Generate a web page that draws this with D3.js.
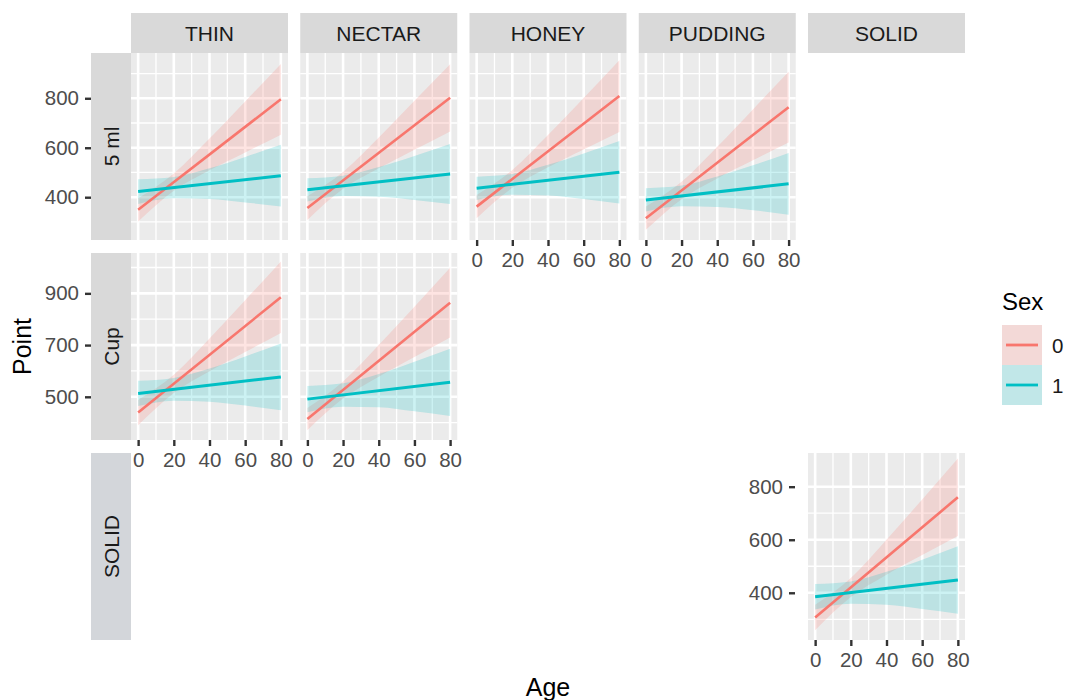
<!DOCTYPE html>
<html>
<head>
<meta charset="utf-8">
<script src="https://cdn.jsdelivr.net/npm/d3@7"></script>
<style>
  html, body { margin: 0; padding: 0; background: #ffffff; }
  svg { display: block; font-family: "Liberation Sans", Arial, Helvetica, sans-serif; }
</style>
</head>
<body>
<svg id="chart" width="1069" height="700"></svg>
<script>
// ---------------- DATA ----------------
const columns = ["THIN", "NECTAR", "HONEY", "PUDDING", "SOLID"];
const rows = ["5 ml", "Cup", "SOLID"];
const sexes = ["0", "1"];
const sexColors = ["#F8766D", "#00BFC4"];

// panels that hold data: [row, column]
const panelRow = ["5 ml", "5 ml", "5 ml", "5 ml", "Cup", "Cup", "SOLID"];
const panelCol = ["THIN", "NECTAR", "HONEY", "PUDDING", "THIN", "NECTAR", "SOLID"];

// fitted lines, value at age 0 and age 80
const lineAges = [0, 80];
const fitSex0 = [[349, 796], [356, 802], [362, 809], [315, 764], [439, 885], [414, 864], [307, 760]];
const fitSex1 = [[423, 487], [430, 494], [436, 501], [389, 454], [513, 577], [491, 556], [385, 448]];

// confidence band, read at these ages
const bandAges = [0, 20, 40, 60, 80];
const loSex0 = [[302, 426, 509, 581, 653], [308, 434, 517, 592, 666], [315, 438, 521, 593, 664], [268, 392, 476, 549, 621],
                [390, 515, 599, 673, 747], [371, 493, 578, 654, 729], [259, 384, 468, 542, 614]];
const hiSex0 = [[396, 496, 637, 787, 939], [404, 502, 641, 790, 938], [409, 510, 651, 801, 954], [362, 462, 604, 755, 907],
                [488, 585, 725, 873, 1023], [457, 559, 700, 848, 999], [355, 456, 600, 752, 906]];
const loSex1 = [[373, 396, 393, 379, 362], [383, 405, 402, 389, 373], [389, 410, 407, 393, 375], [342, 363, 360, 347, 329],
                [464, 485, 481, 466, 448], [440, 462, 460, 444, 426], [337, 359, 355, 339, 321]];
const hiSex1 = [[473, 482, 517, 563, 612], [477, 487, 522, 567, 615], [483, 494, 531, 577, 627], [436, 447, 484, 529, 579],
                [562, 573, 609, 656, 706], [542, 552, 588, 636, 686], [433, 443, 479, 525, 575]];

// axes
const xDomain = [-4, 84];
const xMajor = [0, 20, 40, 60, 80];
const xMinor = [10, 30, 50, 70];
const yDomains = [[227, 983], [333, 1056], [222, 927]];
const yMajor = [[400, 600, 800], [500, 700, 900], [400, 600, 800]];
const yMinor = [[300, 500, 700, 900], [400, 600, 800, 1000], [300, 500, 700]];
// where x axes are drawn: [row, column]
const xAxisRow = ["5 ml", "5 ml", "Cup", "Cup", "SOLID"];
const xAxisCol = ["HONEY", "PUDDING", "THIN", "NECTAR", "SOLID"];

// ---------------- LAYOUT ----------------
const svg = d3.select("#chart");
const colBand = d3.scaleBand().domain(columns).range([131, 965]).paddingInner(0.0724).paddingOuter(0);
const rowBand = d3.scaleBand().domain(rows).range([53, 640]).paddingInner(0.065).paddingOuter(0);
const stripTop = 13;
const rowStripX = 91;
const FONT = "Liberation Sans, Arial, sans-serif";

function xScale(col) {
  const x0 = colBand(col);
  return d3.scaleLinear().domain(xDomain).range([x0, x0 + colBand.bandwidth()]);
}
function yScale(row) {
  const i = rows.indexOf(row);
  const y0 = rowBand(row);
  return d3.scaleLinear().domain(yDomains[i]).range([y0 + rowBand.bandwidth(), y0]);
}

// column strips
columns.forEach(c => {
  svg.append("rect").attr("x", colBand(c)).attr("y", stripTop)
    .attr("width", colBand.bandwidth()).attr("height", rowBand("5 ml") - stripTop)
    .attr("fill", "#d9d9d9");
  svg.append("text").attr("x", colBand(c) + colBand.bandwidth() / 2).attr("y", (stripTop + rowBand("5 ml")) / 2)
    .attr("text-anchor", "middle").attr("dominant-baseline", "central")
    .attr("font-size", 21).attr("fill", "#1a1a1a").text(c);
});

// row strips
rows.forEach((r, i) => {
  svg.append("rect").attr("x", rowStripX).attr("y", rowBand(r))
    .attr("width", colBand(columns[0]) - rowStripX).attr("height", rowBand.bandwidth())
    .attr("fill", i === 2 ? "#d3d6da" : "#d9d9d9");
  const cx = (rowStripX + colBand(columns[0])) / 2, cy = rowBand(r) + rowBand.bandwidth() / 2;
  svg.append("text").attr("transform", `translate(${cx},${cy}) rotate(-90)`)
    .attr("text-anchor", "middle").attr("dominant-baseline", "central")
    .attr("font-size", 21).attr("fill", "#1a1a1a").text(r);
});

// panels
panelRow.forEach((r, p) => {
  const c = panelCol[p];
  const x = xScale(c), y = yScale(r);
  const ri = rows.indexOf(r);
  const g = svg.append("g");
  g.append("rect").attr("x", x.range()[0]).attr("y", y.range()[1])
    .attr("width", x.range()[1] - x.range()[0]).attr("height", y.range()[0] - y.range()[1])
    .attr("fill", "#ebebeb");
  // minor grid
  xMinor.forEach(v => g.append("line").attr("x1", x(v)).attr("x2", x(v)).attr("y1", y.range()[0]).attr("y2", y.range()[1])
    .attr("stroke", "#fff").attr("stroke-width", 1.3));
  yMinor[ri].forEach(v => g.append("line").attr("y1", y(v)).attr("y2", y(v)).attr("x1", x.range()[0]).attr("x2", x.range()[1])
    .attr("stroke", "#fff").attr("stroke-width", 1.3));
  // major grid
  xMajor.forEach(v => g.append("line").attr("x1", x(v)).attr("x2", x(v)).attr("y1", y.range()[0]).attr("y2", y.range()[1])
    .attr("stroke", "#fff").attr("stroke-width", 2.6));
  yMajor[ri].forEach(v => g.append("line").attr("y1", y(v)).attr("y2", y(v)).attr("x1", x.range()[0]).attr("x2", x.range()[1])
    .attr("stroke", "#fff").attr("stroke-width", 2.6));

  const los = [loSex0[p], loSex1[p]], his = [hiSex0[p], hiSex1[p]];
  const fits = [fitSex0[p], fitSex1[p]];
  // ribbons
  sexes.forEach((s, si) => {
    const pts = bandAges.map((a, k) => ({ a, lo: los[si][k], hi: his[si][k] }));
    const area = d3.area().x(d => x(d.a)).y0(d => y(d.lo)).y1(d => y(d.hi)).curve(d3.curveMonotoneX);
    g.append("path").attr("d", area(pts)).attr("fill", sexColors[si]).attr("fill-opacity", 0.2);
  });
  // lines
  sexes.forEach((s, si) => {
    const pts = lineAges.map((a, k) => ({ a, v: fits[si][k] }));
    const line = d3.line().x(d => x(d.a)).y(d => y(d.v));
    g.append("path").attr("d", line(pts)).attr("fill", "none").attr("stroke", sexColors[si])
      .attr("stroke-width", si === 0 ? 2.6 : 3);
  });
});

// x axes
xAxisRow.forEach((r, i) => {
  const x = xScale(xAxisCol[i]);
  const yb = rowBand(r) + rowBand.bandwidth();
  const ax = svg.append("g").attr("transform", `translate(0,${yb})`)
    .call(d3.axisBottom(x).tickValues(xMajor).tickSize(6).tickPadding(6).tickFormat(d3.format("d")));
  ax.select(".domain").remove();
  ax.selectAll("line").attr("stroke", "#333").attr("stroke-width", 2.4);
  ax.selectAll("text").attr("font-size", 20.5).attr("fill", "#4d4d4d").style("font-family", FONT);
});

// y axes
const yAxisX = [rowStripX, rowStripX, 795];
rows.forEach((r, i) => {
  const y = yScale(r);
  const ax = svg.append("g").attr("transform", `translate(${yAxisX[i]},0)`)
    .call(d3.axisLeft(y).tickValues(yMajor[i]).tickSize(6).tickPadding(6).tickFormat(d3.format("d")));
  ax.select(".domain").remove();
  ax.selectAll("line").attr("stroke", "#333").attr("stroke-width", 2.4);
  ax.selectAll("text").attr("font-size", 20.5).attr("fill", "#4d4d4d").style("font-family", FONT);
});

// axis titles
svg.append("text").attr("x", (131 + 965) / 2).attr("y", 696).attr("text-anchor", "middle")
  .attr("font-size", 25).attr("fill", "#000").text("Age");
svg.append("text").attr("transform", `translate(31,${(53 + 640) / 2}) rotate(-90)`).attr("text-anchor", "middle")
  .attr("font-size", 25).attr("fill", "#000").text("Point");

// legend
const lg = svg.append("g");
lg.append("text").attr("x", 1002).attr("y", 310).attr("font-size", 24).attr("fill", "#000").text("Sex");
sexes.forEach((s, i) => {
  const ky = 325 + i * 40;
  lg.append("rect").attr("x", 1002).attr("y", ky).attr("width", 40).attr("height", 40).attr("fill", "#f2f2f2");
  lg.append("rect").attr("x", 1002).attr("y", ky).attr("width", 40).attr("height", 40)
    .attr("fill", sexColors[i]).attr("fill-opacity", 0.2);
  lg.append("line").attr("x1", 1006).attr("x2", 1038).attr("y1", ky + 20).attr("y2", ky + 20)
    .attr("stroke", sexColors[i]).attr("stroke-width", 2.8);
  lg.append("text").attr("x", 1052).attr("y", ky + 20).attr("dominant-baseline", "central")
    .attr("font-size", 20.5).attr("fill", "#1a1a1a").text(s);
});
</script>
</body>
</html>
